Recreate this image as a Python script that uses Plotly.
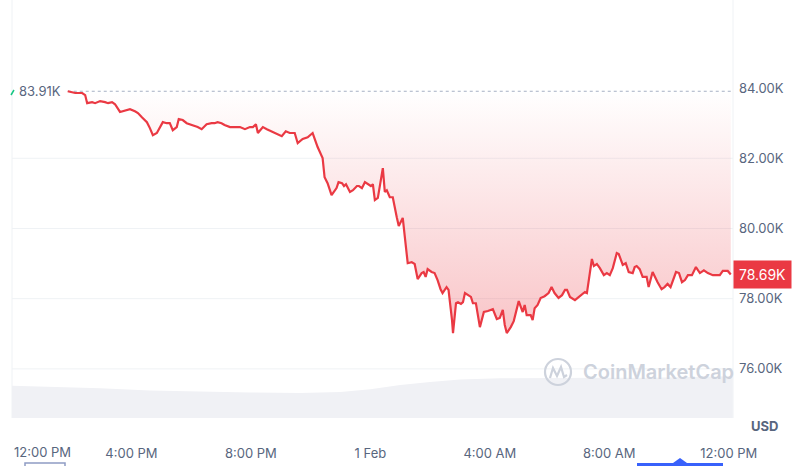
import plotly.graph_objects as go

# ---------------- data ----------------
times = [
    "2026-01-31 13:52", "2026-01-31 14:07", "2026-01-31 14:21", "2026-01-31 14:27", "2026-01-31 14:31",
    "2026-01-31 14:41", "2026-01-31 14:47", "2026-01-31 14:57", "2026-01-31 15:07", "2026-01-31 15:13",
    "2026-01-31 15:21", "2026-01-31 15:27", "2026-01-31 15:37", "2026-01-31 15:47", "2026-01-31 15:57",
    "2026-01-31 16:07", "2026-01-31 16:13", "2026-01-31 16:21", "2026-01-31 16:31", "2026-01-31 16:37",
    "2026-01-31 16:43", "2026-01-31 16:51", "2026-01-31 16:57", "2026-01-31 17:03", "2026-01-31 17:11",
    "2026-01-31 17:17", "2026-01-31 17:23", "2026-01-31 17:31", "2026-01-31 17:35", "2026-01-31 17:43",
    "2026-01-31 17:51", "2026-01-31 18:03", "2026-01-31 18:13", "2026-01-31 18:21", "2026-01-31 18:31",
    "2026-01-31 18:41", "2026-01-31 18:47", "2026-01-31 18:53", "2026-01-31 19:01", "2026-01-31 19:07",
    "2026-01-31 19:18", "2026-01-31 19:28", "2026-01-31 19:38", "2026-01-31 19:48", "2026-01-31 19:58",
    "2026-01-31 20:04", "2026-01-31 20:10", "2026-01-31 20:14", "2026-01-31 20:24", "2026-01-31 20:32",
    "2026-01-31 20:42", "2026-01-31 20:52", "2026-01-31 21:02", "2026-01-31 21:10", "2026-01-31 21:18",
    "2026-01-31 21:28", "2026-01-31 21:34", "2026-01-31 21:44", "2026-01-31 21:54", "2026-01-31 22:04",
    "2026-01-31 22:14", "2026-01-31 22:24", "2026-01-31 22:28", "2026-01-31 22:34", "2026-01-31 22:42",
    "2026-01-31 22:52", "2026-01-31 22:56", "2026-01-31 23:03", "2026-01-31 23:07", "2026-01-31 23:11",
    "2026-01-31 23:19", "2026-01-31 23:25", "2026-01-31 23:33", "2026-01-31 23:37", "2026-01-31 23:43",
    "2026-01-31 23:49", "2026-01-31 23:55", "2026-02-01 00:01", "2026-02-01 00:05", "2026-02-01 00:09",
    "2026-02-01 00:15", "2026-02-01 00:23", "2026-02-01 00:25", "2026-02-01 00:29", "2026-02-01 00:33",
    "2026-02-01 00:39", "2026-02-01 00:45", "2026-02-01 00:53", "2026-02-01 00:57", "2026-02-01 01:05",
    "2026-02-01 01:13", "2026-02-01 01:15", "2026-02-01 01:23", "2026-02-01 01:29", "2026-02-01 01:35",
    "2026-02-01 01:43", "2026-02-01 01:47", "2026-02-01 01:51", "2026-02-01 01:55", "2026-02-01 02:03",
    "2026-02-01 02:09", "2026-02-01 02:15", "2026-02-01 02:21", "2026-02-01 02:25", "2026-02-01 02:33",
    "2026-02-01 02:37", "2026-02-01 02:44", "2026-02-01 02:46", "2026-02-01 02:52", "2026-02-01 02:56",
    "2026-02-01 03:02", "2026-02-01 03:06", "2026-02-01 03:10", "2026-02-01 03:16", "2026-02-01 03:22",
    "2026-02-01 03:26", "2026-02-01 03:32", "2026-02-01 03:40", "2026-02-01 03:48", "2026-02-01 03:56",
    "2026-02-01 04:06", "2026-02-01 04:14", "2026-02-01 04:20", "2026-02-01 04:26", "2026-02-01 04:30",
    "2026-02-01 04:34", "2026-02-01 04:42", "2026-02-01 04:48", "2026-02-01 04:58", "2026-02-01 05:06",
    "2026-02-01 05:10", "2026-02-01 05:14", "2026-02-01 05:22", "2026-02-01 05:26", "2026-02-01 05:30",
    "2026-02-01 05:36", "2026-02-01 05:42", "2026-02-01 05:50", "2026-02-01 05:58", "2026-02-01 06:04",
    "2026-02-01 06:10", "2026-02-01 06:18", "2026-02-01 06:25", "2026-02-01 06:31", "2026-02-01 06:35",
    "2026-02-01 06:41", "2026-02-01 06:51", "2026-02-01 06:59", "2026-02-01 07:07", "2026-02-01 07:11",
    "2026-02-01 07:15", "2026-02-01 07:25", "2026-02-01 07:29", "2026-02-01 07:35", "2026-02-01 07:41",
    "2026-02-01 07:49", "2026-02-01 07:55", "2026-02-01 08:01", "2026-02-01 08:07", "2026-02-01 08:15",
    "2026-02-01 08:19", "2026-02-01 08:27", "2026-02-01 08:33", "2026-02-01 08:39", "2026-02-01 08:47",
    "2026-02-01 08:51", "2026-02-01 08:55", "2026-02-01 09:01", "2026-02-01 09:07", "2026-02-01 09:15",
    "2026-02-01 09:19", "2026-02-01 09:27", "2026-02-01 09:37", "2026-02-01 09:45", "2026-02-01 09:51",
    "2026-02-01 09:57", "2026-02-01 10:03", "2026-02-01 10:14", "2026-02-01 10:20", "2026-02-01 10:26",
    "2026-02-01 10:32", "2026-02-01 10:38", "2026-02-01 10:46", "2026-02-01 10:54", "2026-02-01 11:02",
    "2026-02-01 11:10", "2026-02-01 11:18", "2026-02-01 11:28", "2026-02-01 11:42", "2026-02-01 11:48",
    "2026-02-01 11:58", "2026-02-01 12:04",
]

prices_k = [
    83.91, 83.86, 83.86, 83.80, 83.57, 83.60, 83.57, 83.63, 83.60, 83.57,
    83.60, 83.54, 83.32, 83.37, 83.40, 83.34, 83.29, 83.17, 83.03, 82.86,
    82.66, 82.72, 82.89, 83.03, 83.00, 83.00, 82.80, 82.89, 83.12, 83.09,
    83.00, 82.95, 82.89, 82.83, 82.97, 83.00, 83.00, 83.03, 83.00, 82.95,
    82.89, 82.89, 82.89, 82.83, 82.89, 82.89, 82.97, 82.72, 82.89, 82.83,
    82.77, 82.69, 82.63, 82.77, 82.72, 82.72, 82.43, 82.55, 82.60, 82.72,
    82.32, 82.01, 81.46, 81.29, 80.95, 81.15, 81.32, 81.29, 81.21, 81.26,
    81.04, 81.09, 81.21, 81.21, 81.15, 81.32, 81.26, 81.21, 81.26, 80.81,
    80.87, 81.52, 81.72, 81.04, 81.09, 80.89, 80.89, 80.32, 80.07, 80.30,
    79.19, 79.01, 79.04, 78.99, 78.56, 78.73, 78.76, 78.62, 78.84, 78.76,
    78.73, 78.53, 78.27, 78.16, 78.33, 78.25, 77.39, 77.02, 77.87, 77.90,
    77.85, 77.90, 78.16, 78.10, 78.05, 77.87, 77.87, 77.19, 77.62, 77.65,
    77.70, 77.42, 77.45, 77.68, 77.25, 77.02, 77.19, 77.36, 77.93, 77.62,
    77.82, 77.53, 77.53, 77.39, 77.73, 77.82, 78.02, 78.07, 78.16, 78.33,
    78.16, 78.02, 78.10, 78.25, 78.25, 78.05, 77.96, 78.05, 78.16, 78.19,
    78.16, 79.13, 78.93, 78.99, 78.87, 78.67, 78.73, 78.67, 78.87, 79.30,
    79.27, 78.96, 79.01, 78.76, 78.73, 78.90, 78.93, 78.84, 78.62, 78.62,
    78.33, 78.76, 78.47, 78.27, 78.33, 78.42, 78.33, 78.76, 78.73, 78.47,
    78.53, 78.67, 78.67, 78.90, 78.73, 78.81, 78.73, 78.67, 78.67, 78.79,
    78.79, 78.69,
]

# background volume band (relative units)
vol_times = [
    "2026-01-31 12:00", "2026-01-31 13:36", "2026-01-31 14:57", "2026-01-31 16:37", "2026-01-31 18:18",
    "2026-01-31 19:58", "2026-01-31 21:39", "2026-01-31 23:00", "2026-02-01 00:00", "2026-02-01 01:00",
    "2026-02-01 02:00", "2026-02-01 03:00", "2026-02-01 04:20", "2026-02-01 06:00", "2026-02-01 07:41",
    "2026-02-01 09:21", "2026-02-01 11:02", "2026-02-01 12:08",
]
vol_values = [7.7, 7.4, 7.1, 6.6, 6.3, 6.1, 6.0, 6.2, 6.9, 7.9, 8.6, 9.2, 9.5, 9.6, 9.6, 9.6, 9.8, 10.0]

ref_price_k = 83.91
last_price_k = 78.69
ytick_vals = [76, 78, 80, 82, 84]
ytick_text = ["76.00K", "78.00K", "80.00K", "82.00K", "84.00K"]
grid_vals = [76, 78, 80, 82]
xtick_vals = ["2026-01-31 16:00", "2026-01-31 20:00", "2026-02-01 00:00",
              "2026-02-01 04:00", "2026-02-01 08:00", "2026-02-01 12:00"]
xtick_text = ["4:00 PM", "8:00 PM", "1 Feb", "4:00 AM", "8:00 AM", "12:00 PM"]
first_tick_text = "12:00 PM"

# ---------------- styling ----------------
RED = "#ea3943"
GRAY_TXT = "#58667e"
GRID = "#eff2f5"
W, H = 800, 466
ML, MR, MT, MB = 12, 67, 0, 48
PW, PH = W - ML - MR, H - MT - MB


def px_x(p):
    return (p - ML) / PW


def px_y(p):
    return (H - MB - p) / PH


fig = go.Figure()

# reference (open) price line - dotted
fig.add_trace(go.Scatter(
    x=times, y=[ref_price_k] * len(times), mode="lines",
    line=dict(color="#a6b0c3", width=1, dash="dot"), hoverinfo="skip"))

# price line with gradient fill up to the reference line
fig.add_trace(go.Scatter(
    x=times, y=prices_k, mode="lines",
    line=dict(color=RED, width=2.2),
    fill="tonexty",
    fillgradient=dict(type="vertical",
                      colorscale=[[0, "rgba(234,57,67,0.30)"], [1, "rgba(234,57,67,0.0)"]],
                      start=76.9, stop=ref_price_k),
    hoverinfo="skip"))

# volume band
fig.add_trace(go.Scatter(
    x=vol_times, y=vol_values, yaxis="y2", mode="lines",
    line=dict(width=0, color="#f0f1f5"), fill="tozeroy", fillcolor="#f0f1f5",
    hoverinfo="skip"))

shapes = []
for g in grid_vals:
    shapes.append(dict(type="line", xref="paper", yref="y", x0=0, x1=1, y0=g, y1=g,
                       line=dict(color=GRID, width=1), layer="below"))
for xv in (0, 1):
    shapes.append(dict(type="line", xref="paper", yref="paper", x0=xv, x1=xv, y0=0, y1=1,
                       line=dict(color=GRID, width=1), layer="below"))
# small green marker at left of reference label
shapes.append(dict(type="line", xref="paper", yref="paper",
                   x0=px_x(11), x1=px_x(14), y0=px_y(95), y1=px_y(90),
                   line=dict(color="#16c784", width=1.5)))
# watermark logo
shapes.append(dict(type="circle", xref="paper", yref="paper",
                   x0=px_x(545), x1=px_x(571), y0=px_y(385), y1=px_y(359),
                   line=dict(color="#cdd2dc", width=2.2)))
pts = [(550, 378), (553, 368), (557, 376), (561, 367), (564, 377), (567, 375)]
path = "M " + " L ".join(f"{px_x(a)},{px_y(b)}" for a, b in pts)
shapes.append(dict(type="path", xref="paper", yref="paper", path=path,
                   line=dict(color="#cdd2dc", width=2.2)))
# bottom UI elements (partially visible)
shapes.append(dict(type="rect", xref="paper", yref="paper",
                   x0=px_x(637), x1=px_x(723), y0=px_y(470), y1=px_y(463),
                   line=dict(width=0), fillcolor="#3861fb"))
tri = [(673, 463), (680, 458), (687, 463)]
shapes.append(dict(type="path", xref="paper", yref="paper",
                   path="M " + " L ".join(f"{px_x(a)},{px_y(b)}" for a, b in tri) + " Z",
                   line=dict(width=0), fillcolor="#3861fb"))
shapes.append(dict(type="rect", xref="paper", yref="paper",
                   x0=px_x(25), x1=px_x(65), y0=px_y(472), y1=px_y(463),
                   line=dict(color="#8e9cc4", width=1.5), fillcolor="rgba(0,0,0,0)"))

annotations = [
    dict(text=f"{ref_price_k:.2f}K", xref="paper", yref="y", x=px_x(63), y=ref_price_k,
         xanchor="right", yanchor="middle", showarrow=False,
         font=dict(size=13, color=GRAY_TXT)),
    dict(text=first_tick_text, xref="paper", yref="paper", x=0, y=px_y(452),
         xanchor="left", yanchor="middle", showarrow=False,
         font=dict(size=13, color=GRAY_TXT)),
    dict(text="<b>USD</b>", xref="paper", yref="paper", x=px_x(764), y=px_y(426),
         xanchor="center", yanchor="middle", showarrow=False,
         font=dict(size=13, color=GRAY_TXT)),
    dict(text=f"{last_price_k:.2f}K", xref="paper", yref="y", x=1, y=last_price_k,
         xanchor="left", yanchor="middle", showarrow=False,
         bgcolor=RED, borderpad=5, font=dict(size=14, color="white")),
    dict(text="CoinMarketCap", xref="paper", yref="paper", x=px_x(581), y=px_y(372),
         xanchor="left", yanchor="middle", showarrow=False,
         font=dict(size=20, color="#cdd2dc", weight=600)),
]

fig.update_layout(
    width=W, height=H,
    margin=dict(l=ML, r=MR, t=MT, b=MB),
    paper_bgcolor="white", plot_bgcolor="white",
    showlegend=False, hovermode=False,
    font=dict(family="Inter, sans-serif", size=13, color=GRAY_TXT),
    xaxis=dict(type="date", range=["2026-01-31 12:00", "2026-02-01 12:08:30"],
               tickvals=xtick_vals, ticktext=xtick_text, showgrid=False,
               zeroline=False, showline=False, ticks="", ticklabelstandoff=26),
    yaxis=dict(side="right", range=[74.6, 86.51], tickvals=ytick_vals, ticktext=ytick_text,
               showgrid=False, zeroline=False, showline=False, ticks="", ticklabelstandoff=5),
    yaxis2=dict(overlaying="y", range=[0, 100], visible=False),
    shapes=shapes, annotations=annotations,
)

fig.write_html("out.html", config={"displayModeBar": False})

# remove the browser's default 8px page margin so the figure fills the window exactly
with open("out.html", "r", encoding="utf-8") as f:
    html = f.read()
html = html.replace("<head>", "<head><style>html,body{margin:0;padding:0;overflow:hidden;}</style>", 1)
with open("out.html", "w", encoding="utf-8") as f:
    f.write(html)
